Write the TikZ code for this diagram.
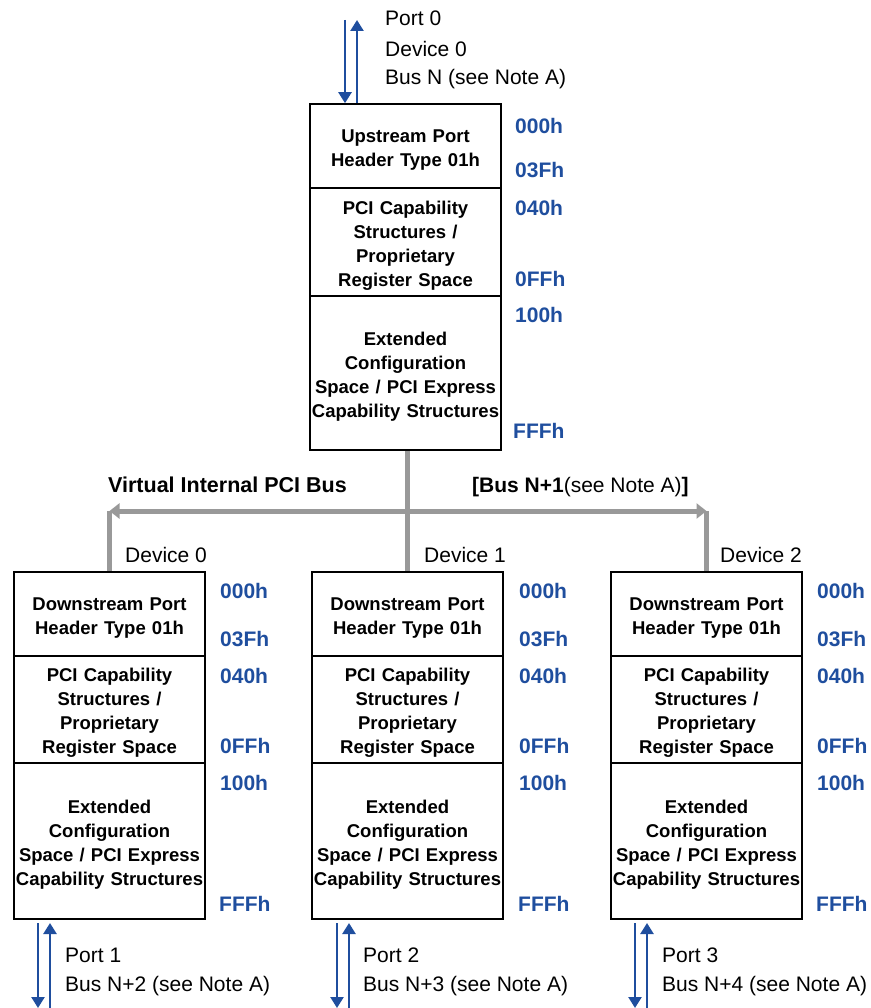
\documentclass[tikz,border=0pt]{standalone}
\usepackage{fontspec}
\setmainfont{Liberation Sans}
\usetikzlibrary{arrows.meta}
\usetikzlibrary{positioning}
\usepackage{xcolor}
\definecolor{regblue}{RGB}{31,78,158}
\definecolor{busgray}{RGB}{153,153,153}

\begin{document}
\begin{tikzpicture}[x=1pt,y=-1pt,
		sect/.style={draw, line width=1.6pt, inner sep=0pt, text width=191pt, align=center,
			font=\fontsize{18.5}{24}\selectfont\bfseries, execute at begin node={\rule{0pt}{20.5pt}}},
		addr/.style={anchor=base west, inner sep=0pt, text=regblue, font=\fontsize{21}{24}\selectfont\bfseries},
		lbl/.style={anchor=base west, inner sep=0pt, font=\fontsize{21}{24}\selectfont},
		port/.style={draw=regblue, line width=2.4pt, -{Triangle[length=11pt,width=13pt]}},
		bus/.style={draw=busgray, line width=5pt}]
	\useasboundingbox (0,0) rectangle (870,1008);
		% upstream port
		\node[sect, minimum height=84pt] (up1) at (405.5,146) {Upstream Port\\Header Type 01h};
		\node[sect, minimum height=108pt] (up2) at (405.5,242) {PCI Capability\\Structures /\\Proprietary\\Register Space};
		\node[sect, minimum height=154pt] (up3) at (405.5,373) {Extended\\Configuration\\Space / PCI Express\\Capability Structures};
		\node[addr] (ua1) at (515,134) {000h};
		\node[addr] (ua2) at (515,178) {03Fh};
		\node[addr] (ua3) at (515,215) {040h};
		\node[addr] (ua4) at (515,286) {0FFh};
		\node[addr] (ua5) at (515,322) {100h};
		\node[addr] (ua6) at (513,438) {FFFh};
		\coordinate (in0) at (345,20);
		\coordinate (out0) at (357,20);
		\draw[port] (in0) -- (in0 |- up1.north);
		\draw[port] (out0 |- up1.north) -- (out0);
		\node[lbl] (port0) at (385,26) {Port 0};
		\node[lbl] (dev0) at (385,57) {Device 0};
		\node[lbl] (busn) at (385,85) {Bus N (see Note A)};
		% downstream ports
		\node[sect, minimum height=84pt] (hdr1) at (109.5,614) {Downstream Port\\Header Type 01h};
		\node[sect, minimum height=107pt] (cap1) at (109.5,709.5) {PCI Capability\\Structures /\\Proprietary\\Register Space};
		\node[sect, minimum height=156pt] (ext1) at (109.5,841) {Extended\\Configuration\\Space / PCI Express\\Capability Structures};
		\node[sect, minimum height=84pt] (hdr2) at (407.5,614) {Downstream Port\\Header Type 01h};
		\node[sect, minimum height=107pt] (cap2) at (407.5,709.5) {PCI Capability\\Structures /\\Proprietary\\Register Space};
		\node[sect, minimum height=156pt] (ext2) at (407.5,841) {Extended\\Configuration\\Space / PCI Express\\Capability Structures};
		\node[sect, minimum height=84pt] (hdr3) at (706.5,614) {Downstream Port\\Header Type 01h};
		\node[sect, minimum height=107pt] (cap3) at (706.5,709.5) {PCI Capability\\Structures /\\Proprietary\\Register Space};
		\node[sect, minimum height=156pt] (ext3) at (706.5,841) {Extended\\Configuration\\Space / PCI Express\\Capability Structures};
		\node[addr] (da11) at (220,598) {000h};
		\node[addr] (da12) at (220,646) {03Fh};
		\node[addr] (da13) at (220,683) {040h};
		\node[addr] (da14) at (220,753) {0FFh};
		\node[addr] (da15) at (220,790) {100h};
		\node[addr] (da16) at (219,911) {FFFh};
		\node[addr] (da21) at (519,598) {000h};
		\node[addr] (da22) at (519,646) {03Fh};
		\node[addr] (da23) at (519,683) {040h};
		\node[addr] (da24) at (519,753) {0FFh};
		\node[addr] (da25) at (519,790) {100h};
		\node[addr] (da26) at (518,911) {FFFh};
		\node[addr] (da31) at (817,598) {000h};
		\node[addr] (da32) at (817,646) {03Fh};
		\node[addr] (da33) at (817,683) {040h};
		\node[addr] (da34) at (817,753) {0FFh};
		\node[addr] (da35) at (817,790) {100h};
		\node[addr] (da36) at (816,911) {FFFh};
		\node[lbl] (dev1) at (125,562) {Device 0};
		\node[lbl] (dev2) at (424,562) {Device 1};
		\node[lbl] (dev3) at (720,562) {Device 2};
		% virtual bus
		\coordinate (busL) at (109.5,511);
		\coordinate (busR) at (706.5,511);
		\draw[bus] (up3.south -| hdr2.north) -- (hdr2.north);
		\draw[bus] (busL) -- (hdr1.north);
		\draw[bus] (busR) -- (hdr3.north);
		\draw[bus, {Triangle[length=10pt,width=15pt]}-{Triangle[length=10pt,width=15pt]}] (busL) -- (busR);
		\node[lbl, font=\fontsize{21.5}{24}\selectfont\bfseries] (vbus) at (108,492) {Virtual Internal PCI Bus};
		\node[lbl] (busn1) at (472,492) {\textbf{[Bus N+1}(see Note A)\textbf{]}};
		% ports below
		\coordinate (in1) at (38,923);
		\coordinate (out1) at (50,1008);
		\coordinate (in2) at (337,923);
		\coordinate (out2) at (349,1008);
		\coordinate (in3) at (635,923);
		\coordinate (out3) at (647,1008);
		\draw[port] (in1) -- (in1 |- out1);
		\draw[port] (out1) -- (out1 |- in1);
		\draw[port] (in2) -- (in2 |- out2);
		\draw[port] (out2) -- (out2 |- in2);
		\draw[port] (in3) -- (in3 |- out3);
		\draw[port] (out3) -- (out3 |- in3);
		\node[lbl] (port1) at (65,962) {Port 1};
		\node[lbl] (busn2) at (65,991) {Bus N+2 (see Note A)};
		\node[lbl] (port2) at (363,962) {Port 2};
		\node[lbl] (busn3) at (363,991) {Bus N+3 (see Note A)};
		\node[lbl] (port3) at (662,962) {Port 3};
		\node[lbl] (busn4) at (662,991) {Bus N+4 (see Note A)};
    \end{tikzpicture}
\end{document}
